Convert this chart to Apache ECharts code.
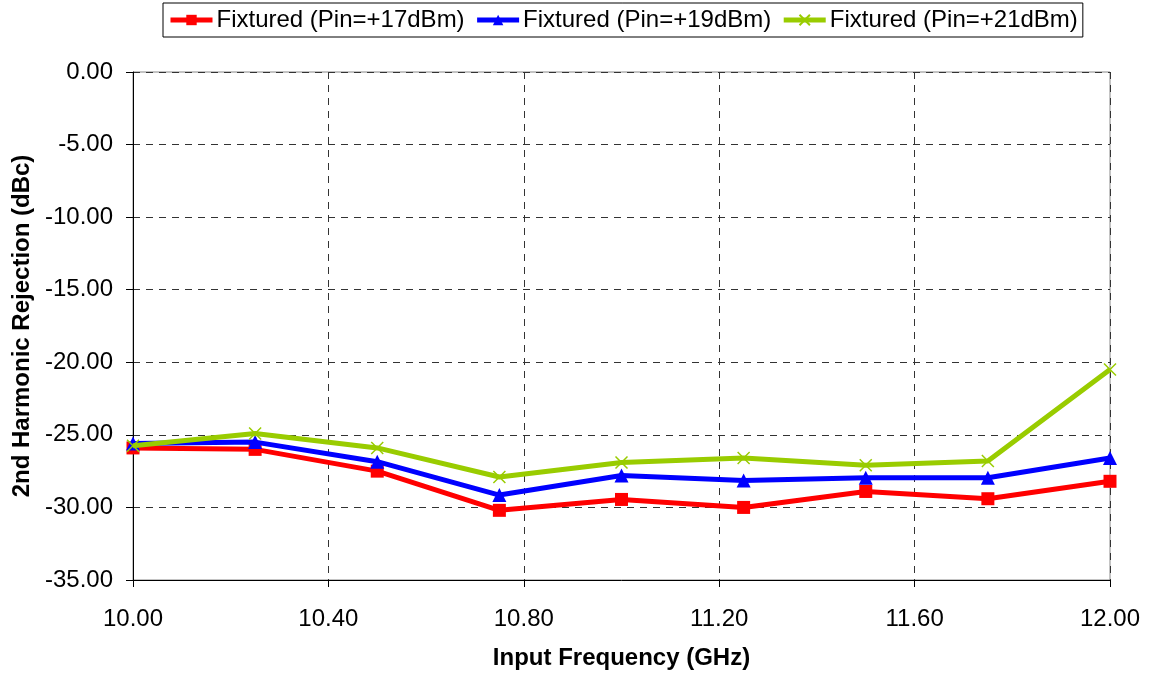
<!DOCTYPE html>
<html><head><meta charset="utf-8">
<script src="https://cdn.jsdelivr.net/npm/echarts@6/dist/echarts.min.js"></script>
<style>html,body{margin:0;padding:0;background:#fff}#c{width:1159px;height:675px}</style>
</head><body><div id="c"></div>
<script>
const freqs = [10.00, 10.25, 10.50, 10.75, 11.00, 11.25, 11.50, 11.75, 12.00];
const pin17 = [-25.9, -26.0, -27.5, -30.2, -29.45, -30.0, -28.9, -29.4, -28.2];
const pin19 = [-25.6, -25.5, -26.85, -29.15, -27.8, -28.15, -27.95, -27.95, -26.6];
const pin21 = [-25.75, -24.9, -25.9, -27.9, -26.9, -26.6, -27.1, -26.8, -20.5];
const seriesNames = ['Fixtured (Pin=+17dBm)', 'Fixtured (Pin=+19dBm)', 'Fixtured (Pin=+21dBm)'];

const font = 'Liberation Sans, Arial, sans-serif';
const pair = arr => freqs.map((f, i) => [f, arr[i]]);
const chart = echarts.init(document.getElementById('c'));
const xPath = 'path://M0,0L10,10M10,0L0,10';
chart.setOption({
  animation: false,
  textStyle: { fontFamily: font },
  grid: { left: 133, right: 49, top: 72, bottom: 95, show: true, borderColor: '#888', borderWidth: 1 },
  legend: {
    top: 3, left: 163,
    borderColor: '#000', borderWidth: 1, padding: [5, 5, 5, 5],
    itemWidth: 42, itemHeight: 13, itemGap: 10,
    lineStyle: { width: 5 },
    textStyle: { fontFamily: font, fontSize: 24, color: '#000', padding: [0, 0, 0, -1] },
    data: seriesNames
  },
  xAxis: {
    type: 'value', min: 10, max: 12, interval: 0.4,
    name: 'Input Frequency (GHz)', nameLocation: 'middle', nameGap: 66,
    nameTextStyle: { fontFamily: font, fontSize: 24, fontWeight: 'bold', color: '#000' },
    axisLine: { onZero: false, lineStyle: { color: '#000', width: 1 } },
    axisTick: { show: true, length: 7, lineStyle: { color: '#000' } },
    axisLabel: { fontFamily: font, fontSize: 24, color: '#000', margin: 27, formatter: v => v.toFixed(2) },
    splitLine: { show: true, lineStyle: { color: '#333', type: [7, 6], width: 1 } }
  },
  yAxis: {
    type: 'value', min: -35, max: 0, interval: 5,
    name: '2nd Harmonic Rejection (dBc)', nameLocation: 'middle', nameGap: 98, nameRotate: 90,
    nameTextStyle: { fontFamily: font, fontSize: 24, fontWeight: 'bold', color: '#000' },
    axisLine: { show: true, onZero: false, lineStyle: { color: '#000', width: 1 } },
    axisTick: { show: true, length: 7, lineStyle: { color: '#000' } },
    axisLabel: { fontFamily: font, fontSize: 24, color: '#000', margin: 20, formatter: v => v.toFixed(2) },
    splitLine: { show: true, lineStyle: { color: '#333', type: [7, 6], width: 1 } }
  },
  series: [
    { name: seriesNames[0], type: 'line', data: pair(pin17), symbol: 'rect', symbolSize: 13,
      lineStyle: { color: '#ff0000', width: 5 }, itemStyle: { color: '#ff0000' }, z: 3 },
    { name: seriesNames[1], type: 'line', data: pair(pin19), symbol: 'triangle', symbolSize: 14,
      lineStyle: { color: '#0000ff', width: 5 }, itemStyle: { color: '#0000ff' }, z: 4 },
    { name: seriesNames[2], type: 'line', data: pair(pin21), symbol: xPath, symbolSize: 12,
      lineStyle: { color: '#99cc00', width: 5 }, itemStyle: { color: '#99cc00', borderColor: '#99cc00', borderWidth: 1.5 }, z: 5 }
  ]
});
</script></body></html>
